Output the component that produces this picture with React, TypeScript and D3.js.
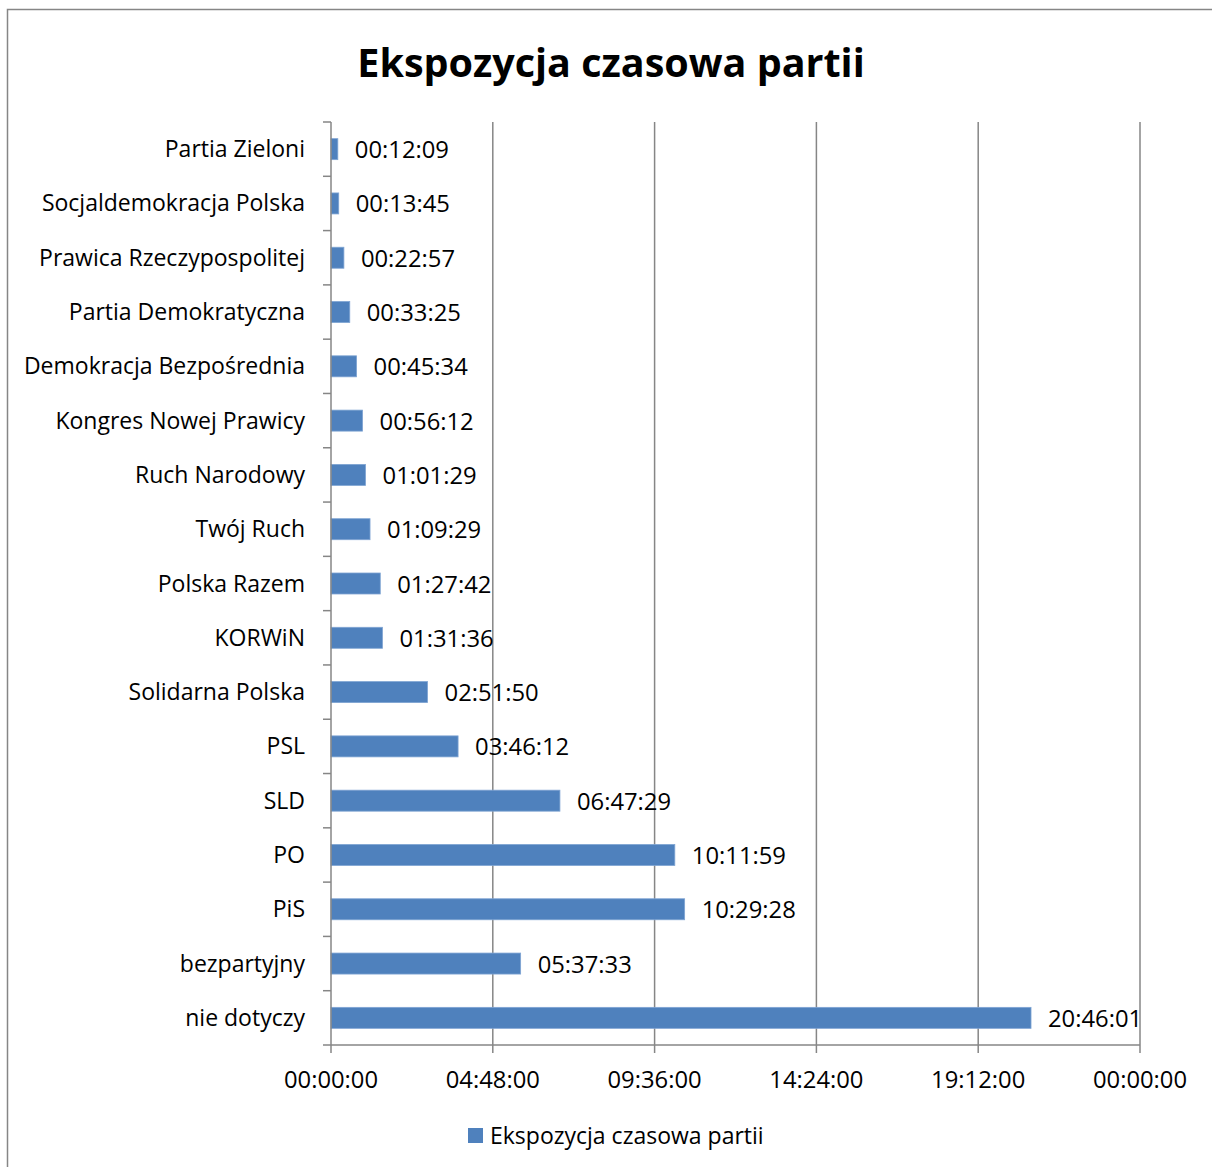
import React from "react";
import * as d3 from "d3";

const categories = [
  "Partia Zieloni",
  "Socjaldemokracja Polska",
  "Prawica Rzeczypospolitej",
  "Partia Demokratyczna",
  "Demokracja Bezpośrednia",
  "Kongres Nowej Prawicy",
  "Ruch Narodowy",
  "Twój Ruch",
  "Polska Razem",
  "KORWiN",
  "Solidarna Polska",
  "PSL",
  "SLD",
  "PO",
  "PiS",
  "bezpartyjny",
  "nie dotyczy",
];

const durations = [
  "00:12:09",
  "00:13:45",
  "00:22:57",
  "00:33:25",
  "00:45:34",
  "00:56:12",
  "01:01:29",
  "01:09:29",
  "01:27:42",
  "01:31:36",
  "02:51:50",
  "03:46:12",
  "06:47:29",
  "10:11:59",
  "10:29:28",
  "05:37:33",
  "20:46:01",
];

const tickHours = [0, 4.8, 9.6, 14.4, 19.2, 24];
const tickLabels = ["00:00:00", "04:48:00", "09:36:00", "14:24:00", "19:12:00", "00:00:00"];

const title = "Ekspozycja czasowa partii";
const seriesName = "Ekspozycja czasowa partii";

const toHours = (s: string) => {
  const [h, m, sec] = s.split(":").map(Number);
  return h + m / 60 + sec / 3600;
};

const values = durations.map(toHours);

export default function App() {
  const W = 1212;
  const H = 1167;
  const left = 331;
  const right = 1140;
  const top = 122;
  const bottom = 1045;
  const font = "Open Sans, Liberation Sans, sans-serif";

  const x = d3.scaleLinear().domain([0, 24]).range([left, right]);
  const y = d3.scaleBand<string>().domain(categories).range([top, bottom]).paddingInner(0).paddingOuter(0);
  const bw = y.bandwidth();
  const barH = 21;
  const grid = "#868686";
  const fsText = 23;
  const fsNum = 23.8;

  return (
    <div style={{ position: "absolute", left: 0, top: 0 }}>
      <svg width={W} height={H} style={{ display: "block" }}>
        <rect x={0} y={0} width={W} height={H} fill="#fff" />
        <rect x={7.5} y={9.5} width={W + 10} height={H + 10} fill="none" stroke="#868686" strokeWidth={1.5} />
        <text x={611} y={77} textAnchor="middle" fontFamily={font} fontWeight="bold" fontSize={39.5} fill="#000">
          {title}
        </text>
        {tickHours.slice(1).map((t, i) => (
          <line key={"g" + i} x1={x(t)} x2={x(t)} y1={top} y2={bottom} stroke={grid} strokeWidth={1.5} />
        ))}
        {categories.map((c, i) => {
          const v = values[i];
          const yc = (y(c) as number) + bw / 2;
          return (
            <g key={c}>
              <rect x={x(0)} y={yc - barH / 2} width={x(v) - x(0)} height={barH} fill="#4F81BD" stroke="#7FA4D3" strokeWidth={0.8} />
              <text x={x(v) + 17} y={yc + 9} fontFamily={font} fontSize={fsNum} fill="#000">
                {durations[i]}
              </text>
              <text x={305} y={yc + 8} textAnchor="end" fontFamily={font} fontSize={fsText} fill="#000">
                {c}
              </text>
            </g>
          );
        })}
        {/* y axis */}
        <line x1={left} x2={left} y1={top} y2={bottom} stroke={grid} strokeWidth={1.5} />
        {categories.map((c, i) => (
          <line key={"yt" + i} x1={left - 8} x2={left} y1={y(c) as number} y2={y(c) as number} stroke={grid} strokeWidth={1.5} />
        ))}
        <line x1={left - 8} x2={left} y1={bottom} y2={bottom} stroke={grid} strokeWidth={1.5} />
        {/* x axis */}
        <line x1={left} x2={right} y1={bottom} y2={bottom} stroke={grid} strokeWidth={1.5} />
        {tickHours.map((t, i) => (
          <g key={"xt" + i}>
            <line x1={x(t)} x2={x(t)} y1={bottom} y2={bottom + 8} stroke={grid} strokeWidth={1.5} />
            <text x={x(t)} y={1088} textAnchor="middle" fontFamily={font} fontSize={fsNum} fill="#000">
              {tickLabels[i]}
            </text>
          </g>
        ))}
        {/* legend */}
        <rect x={468} y={1128} width={15} height={15} fill="#4F81BD" />
        <text x={490} y={1144} fontFamily={font} fontSize={fsText} fill="#000">
          {seriesName}
        </text>
      </svg>
    </div>
  );
}
